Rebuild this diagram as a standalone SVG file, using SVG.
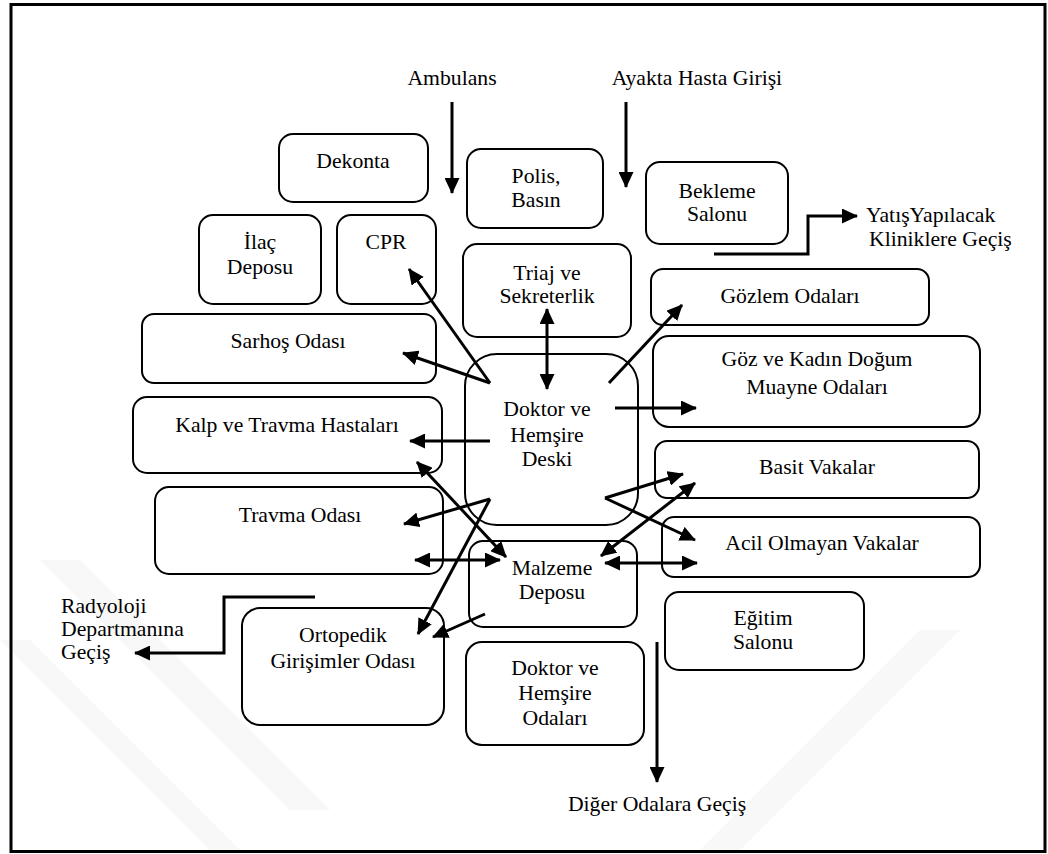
<svg xmlns="http://www.w3.org/2000/svg" width="1048" height="854" viewBox="0 0 1048 854">
<style>
.box{fill:none;stroke:#000;stroke-width:2}
.t{font-family:"Liberation Serif","Times New Roman",serif;font-size:21.7px;fill:#000;text-anchor:middle}
.ts{font-family:"Liberation Serif","Times New Roman",serif;font-size:21.7px;fill:#000}
.c{fill:none;stroke:#000;stroke-width:3}
.a{marker-end:url(#ah)}
.d{marker-start:url(#ah);marker-end:url(#ah)}
.wm{fill:#f8f8f8}
</style>
<defs>
<marker id="ah" markerUnits="userSpaceOnUse" markerWidth="16" markerHeight="15" refX="15" refY="7.5" orient="auto-start-reverse" viewBox="0 0 16 15">
<path d="M0,0 L16,7.5 L0,15 z" fill="#000"/>
</marker>
</defs>
<rect x="0" y="0" width="1048" height="854" fill="#fff"/>
<g id="watermark">
<polygon class="wm" points="40,560 80,560 330,810 290,810"/>
<polygon class="wm" points="0,640 30,640 240,850 210,850"/>
<polygon class="wm" points="700,850 740,850 960,630 920,630"/>
</g>
<rect x="11" y="4.5" width="1034" height="847" fill="none" stroke="#000" stroke-width="3"/>
<g id="connectors">
<line class="c a" x1="452" y1="102" x2="452" y2="193"/>
<line class="c a" x1="626" y1="102" x2="626" y2="187"/>
<polyline class="c a" points="714,254 808,254 808,216 857,216"/>
<polyline class="c a" points="315,597 224,597 224,653 135,653"/>
<line class="c a" x1="657" y1="642" x2="657" y2="782"/>
<line class="c d" x1="547" y1="309" x2="547" y2="389"/>
<line class="c a" x1="490" y1="383" x2="409" y2="269"/>
<line class="c a" x1="490" y1="383" x2="403" y2="353"/>
<line class="c a" x1="609" y1="383" x2="682" y2="305"/>
<line class="c a" x1="615" y1="408" x2="696" y2="408"/>
<line class="c a" x1="490" y1="441" x2="410" y2="441"/>
<line class="c a" x1="490" y1="499" x2="404" y2="524"/>
<line class="c a" x1="490" y1="499" x2="418" y2="634"/>
<line class="c d" x1="417" y1="462" x2="506" y2="557"/>
<line class="c d" x1="415" y1="560" x2="500" y2="560"/>
<line class="c a" x1="605" y1="498" x2="683" y2="474"/>
<line class="c a" x1="605" y1="498" x2="695" y2="540"/>
<line class="c d" x1="695" y1="483" x2="601" y2="556"/>
<line class="c d" x1="605" y1="563" x2="697" y2="563"/>
<line class="c a" x1="485" y1="614" x2="433" y2="637"/>
</g>
<g id="labels">
<text class="t" x="452" y="85">Ambulans</text>
<text class="t" x="697" y="85">Ayakta Hasta Girişi</text>
<text class="ts" x="866" y="222">YatışYapılacak</text>
<text class="ts" x="869" y="246">Kliniklere Geçiş</text>
<text class="ts" x="61" y="613">Radyoloji</text>
<text class="ts" x="61" y="636">Departmanına</text>
<text class="ts" x="61" y="659">Geçiş</text>
<text class="t" x="657" y="811">Diğer Odalara Geçiş</text>
</g>
<g id="dekonta"><rect class="box" x="279" y="134" width="149" height="68" rx="14"/><text class="t" x="353" y="168">Dekonta</text></g>
<g id="polis"><rect class="box" x="467" y="149" width="136" height="79" rx="14"/><text class="t" x="536" y="183">Polis,</text><text class="t" x="536" y="207">Basın</text></g>
<g id="bekleme"><rect class="box" x="646" y="162" width="142" height="82" rx="14"/><text class="t" x="717" y="198">Bekleme</text><text class="t" x="717" y="221">Salonu</text></g>
<g id="ilac"><rect class="box" x="199" y="215" width="122" height="89" rx="14"/><text class="t" x="260" y="249">İlaç</text><text class="t" x="260" y="274">Deposu</text></g>
<g id="cpr"><rect class="box" x="337" y="215" width="99" height="89" rx="14"/><text class="t" x="386" y="249">CPR</text></g>
<g id="triaj"><rect class="box" x="463" y="244" width="168" height="93" rx="14"/><text class="t" x="547" y="280">Triaj ve</text><text class="t" x="547" y="303">Sekreterlik</text></g>
<g id="gozlem"><rect class="box" x="651" y="269" width="278" height="56" rx="12"/><text class="t" x="790" y="303">Gözlem Odaları</text></g>
<g id="sarhos"><rect class="box" x="142" y="314" width="294" height="69" rx="12"/><text class="t" x="288" y="348">Sarhoş Odası</text></g>
<g id="desk"><rect class="box" x="465" y="354" width="173" height="171" rx="32"/><text class="t" x="547" y="416">Doktor ve</text><text class="t" x="547" y="442">Hemşire</text><text class="t" x="547" y="466">Deski</text></g>
<g id="goz"><rect class="box" x="653" y="336" width="327" height="91" rx="16"/><text class="t" x="817" y="366">Göz ve Kadın Doğum</text><text class="t" x="817" y="394">Muayne Odaları</text></g>
<g id="kalp"><rect class="box" x="133" y="397" width="309" height="76" rx="14"/><text class="t" x="287" y="432">Kalp ve Travma Hastaları</text></g>
<g id="basit"><rect class="box" x="655" y="441" width="324" height="57" rx="12"/><text class="t" x="817" y="474">Basit Vakalar</text></g>
<g id="travma"><rect class="box" x="155" y="487" width="288" height="87" rx="14"/><text class="t" x="300" y="522">Travma Odası</text></g>
<g id="acil"><rect class="box" x="662" y="517" width="318" height="60" rx="12"/><text class="t" x="822" y="550">Acil Olmayan Vakalar</text></g>
<g id="malzeme"><rect class="box" x="469" y="541" width="168" height="86" rx="14"/><text class="t" x="552" y="575">Malzeme</text><text class="t" x="552" y="599">Deposu</text></g>
<g id="egitim"><rect class="box" x="665" y="592" width="199" height="78" rx="14"/><text class="t" x="763" y="625">Eğitim</text><text class="t" x="763" y="649">Salonu</text></g>
<g id="ortopedik"><rect class="box" x="242" y="608" width="202" height="117" rx="18"/><text class="t" x="343" y="642">Ortopedik</text><text class="t" x="343" y="668">Girişimler Odası</text></g>
<g id="odalar"><rect class="box" x="466" y="642" width="178" height="103" rx="16"/><text class="t" x="555" y="675">Doktor ve</text><text class="t" x="555" y="700">Hemşire</text><text class="t" x="555" y="725">Odaları</text></g>
</svg>
